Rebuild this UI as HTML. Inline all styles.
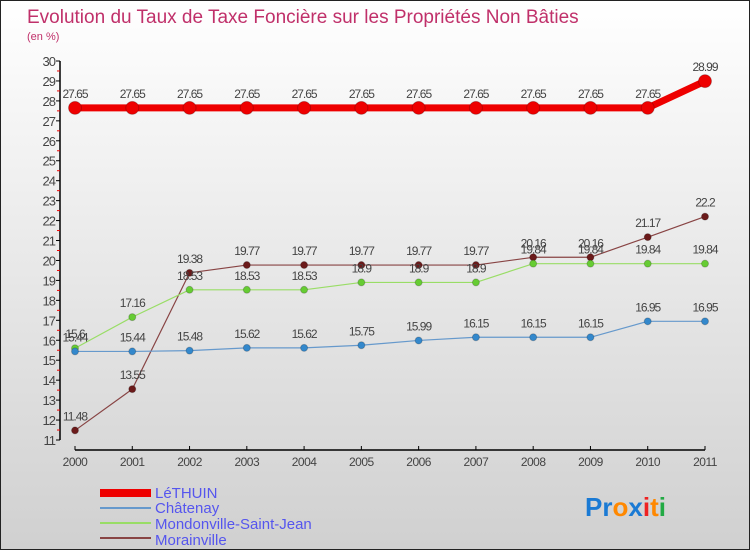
<!DOCTYPE html>
<html><head><meta charset="utf-8"><style>
body{margin:0}
#c{width:750px;height:550px;position:relative;overflow:hidden}
svg text{font-family:"Liberation Sans",sans-serif}
</style></head><body>
<div id="c">
<svg id="s" width="750" height="550" xmlns="http://www.w3.org/2000/svg">
<defs><linearGradient id="bg" x1="0" y1="0" x2="0" y2="1"><stop offset="0" stop-color="#ffffff"/><stop offset="1" stop-color="#d0d0d0"/></linearGradient></defs>
<rect x="0.5" y="0.5" width="749" height="549" fill="url(#bg)" stroke="#222"/>
<text x="27" y="23" font-size="19" fill="#c0306a">Evolution du Taux de Taxe Foncière sur les Propriétés Non Bâties</text>
<text x="27" y="40" font-size="11" fill="#c0306a">(en %)</text>
<g id="axes"></g><g id="series"></g>
<g>
<rect x="100" y="489" width="51" height="8" fill="#e00"/>
<text x="155" y="498" font-size="15" fill="#5555ee">LéTHUIN</text>
<rect x="100" y="507" width="51" height="2" fill="#6699cc"/>
<text x="155" y="513" font-size="15" fill="#5555ee">Châtenay</text>
<rect x="100" y="522" width="51" height="2" fill="#99dd66"/>
<text x="155" y="529" font-size="15" fill="#5555ee">Mondonville-Saint-Jean</text>
<rect x="100" y="537" width="51" height="2" fill="#884444"/>
<text x="155" y="545" font-size="15" fill="#5555ee">Morainville</text>
</g>
<text x="585" y="516" font-size="26" font-weight="bold"><tspan fill="#1a7ad4">Pr</tspan><tspan fill="#ff8800">o</tspan><tspan fill="#1a7ad4">x</tspan><tspan fill="#ee2222">i</tspan><tspan fill="#ff8800">t</tspan><tspan fill="#22aa44">i</tspan></text>
</svg></div>
<script>
const years=["2000","2001","2002","2003","2004","2005","2006","2007","2008","2009","2010","2011"];
const yTicks=[11,12,13,14,15,16,17,18,19,20,21,22,23,24,25,26,27,28,29,30];
const lethuin=[27.65,27.65,27.65,27.65,27.65,27.65,27.65,27.65,27.65,27.65,27.65,28.99];
const chatenay=[15.44,15.44,15.48,15.62,15.62,15.75,15.99,16.15,16.15,16.15,16.95,16.95];
const mondonville=[15.6,17.16,18.53,18.53,18.53,18.9,18.9,18.9,19.84,19.84,19.84,19.84];
const morainville=[11.48,13.55,19.38,19.77,19.77,19.77,19.77,19.77,20.16,20.16,21.17,22.2];
const NS="http://www.w3.org/2000/svg";
const xs=i=>75+i*(630/11);
const ys=v=>440-(v-11)*(379/19);
function mk(p,t,a){const e=document.createElementNS(NS,t);for(const k in a)e.setAttribute(k,a[k]);p.appendChild(e);return e;}
const ax=document.getElementById('axes');
let e=mk(ax,'line',{x1:60,y1:ys(30),x2:60,y2:ys(11),stroke:'#000','stroke-width':1.5});


e=mk(ax,'line',{x1:75,y1:450,x2:705,y2:450,stroke:'#000','stroke-width':1.5});


yTicks.forEach(v=>{
 mk(ax,'line',{x1:56,y1:ys(v),x2:60,y2:ys(v),stroke:'#000'});
 if(v<30)mk(ax,'line',{x1:57,y1:ys(v+0.5),x2:60,y2:ys(v+0.5),stroke:'#e00'});
 const t=mk(ax,'text',{x:55,y:ys(v)+5,'font-size':13,'text-anchor':'end',fill:'#444','letter-spacing':'-1'});
 t.textContent=v;
 
 
});
years.forEach((y,i)=>{
 mk(ax,'line',{x1:xs(i),y1:446,x2:xs(i),y2:450,stroke:'#000'});
 const t=mk(ax,'text',{x:xs(i),y:466,'font-size':12,'text-anchor':'middle',fill:'#444','letter-spacing':'-0.5'});
 t.textContent=y;
 
 
});
const sg=document.getElementById('series');
function series(vals,name,color,w,r,dot){
 const g=mk(sg,'g',{});
 
 
 const pl=mk(g,'polyline',{points:vals.map((v,i)=>xs(i)+','+ys(v)).join(' '),fill:'none',stroke:color,'stroke-width':w,'stroke-linejoin':'round'});
 
 
 vals.forEach((v,i)=>{
  const c=mk(g,'circle',{cx:xs(i),cy:ys(v),r:r,fill:dot,stroke:'#00000033'});
  
  
  const t=mk(g,'text',{x:xs(i),y:ys(v)-10,'font-size':12,'text-anchor':'middle',fill:'#444','letter-spacing':'-1'});
  t.textContent=v;
  
  
 });
}
series(morainville,'morainville','#884444',1.2,3.5,'#6b1a1a');
series(mondonville,'mondonville','#99dd66',1.2,3.5,'#66cc33');
series(chatenay,'chatenay','#6699cc',1.2,3.5,'#3388cc');
series(lethuin,'lethuin','#ee0000',7,6.5,'#ee0000');
</script>
</body></html>
